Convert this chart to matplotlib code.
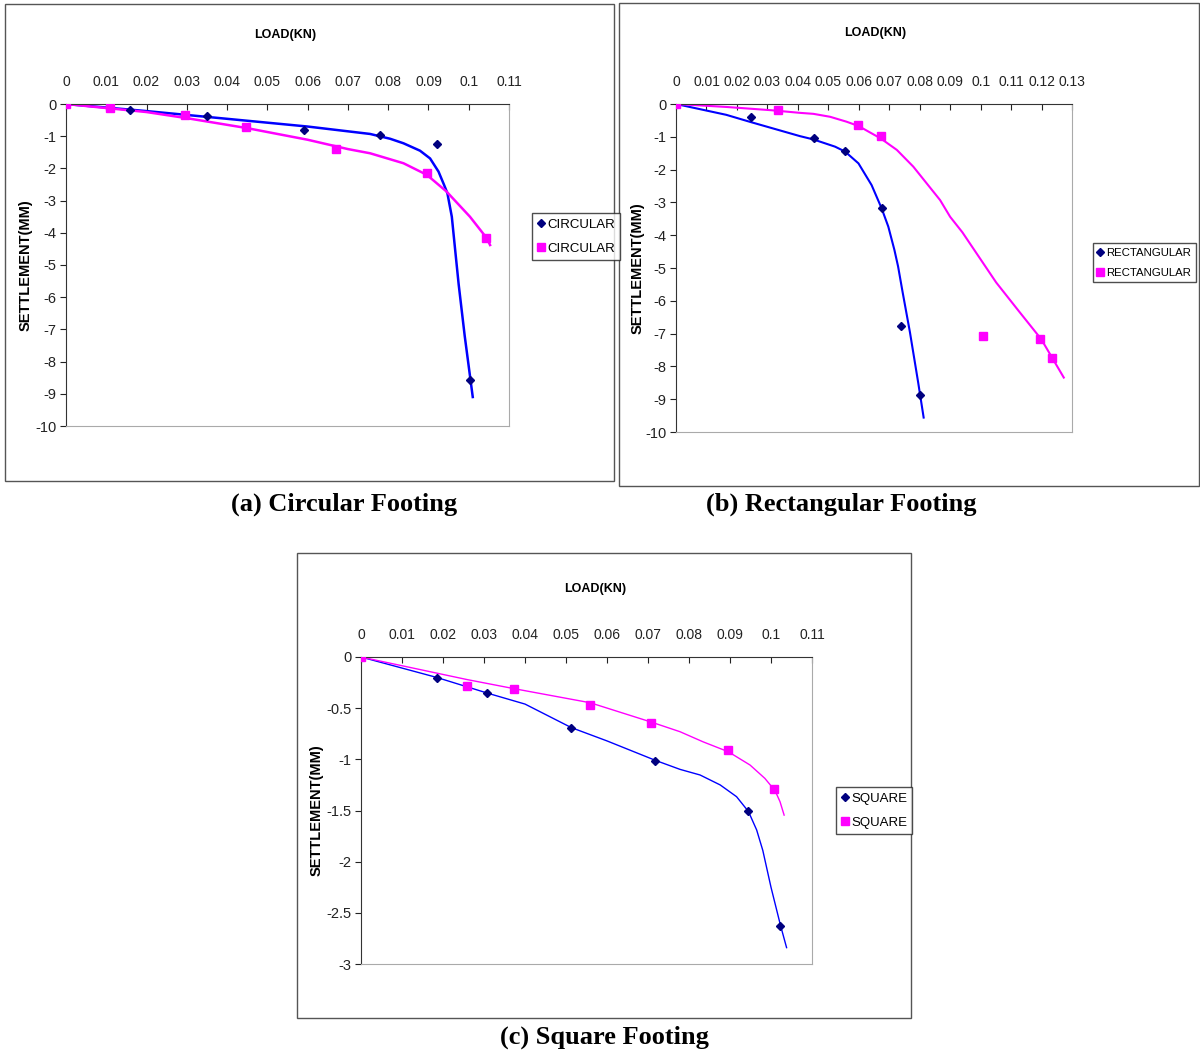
import matplotlib
matplotlib.use("Agg")
import matplotlib.pyplot as plt
from matplotlib.patches import Rectangle
from matplotlib.lines import Line2D

plt.rcParams["font.family"] = ["Liberation Sans", "DejaVu Sans"]

# --- (a) circular footing ---
circ_blue_x = [0, 0.016, 0.035, 0.059, 0.078, 0.092, 0.1003]
circ_blue_y = [0, -0.2, -0.37, -0.8, -0.97, -1.25, -8.58]
circ_pink_x = [0, 0.011, 0.0295, 0.0447, 0.067, 0.0896, 0.1043]
circ_pink_y = [0, -0.12, -0.35, -0.72, -1.4, -2.15, -4.15]
# smooth trend curves
circ_blue_cx = [0, 0.02, 0.04, 0.06, 0.0755, 0.0805, 0.0838, 0.0879, 0.0904, 0.0925, 0.0939,
                0.0947, 0.0958, 0.0968, 0.0975, 0.099, 0.101]
circ_blue_cy = [0, -0.22, -0.46, -0.7, -0.93, -1.08, -1.22, -1.45, -1.69, -2.1, -2.52,
                -2.77, -3.5, -4.74, -5.6, -7.2, -9.1]
circ_pink_cx = [0, 0.02, 0.03, 0.045, 0.06, 0.07, 0.0755, 0.0838, 0.0896, 0.0945, 0.1003, 0.1045, 0.1053]
circ_pink_cy = [0, -0.25, -0.44, -0.75, -1.11, -1.4, -1.53, -1.84, -2.2, -2.72, -3.5, -4.17, -4.38]

# --- (b) rectangular footing ---
rect_blue_x = [0, 0.0245, 0.0452, 0.0555, 0.0676, 0.0737, 0.080]
rect_blue_y = [0, -0.4, -1.04, -1.42, -3.17, -6.76, -8.88]
rect_pink_x = [0, 0.0335, 0.0598, 0.0672, 0.1008, 0.1194, 0.1234]
rect_pink_y = [0, -0.17, -0.63, -0.99, -7.07, -7.17, -7.75]
rect_blue_cx = [0, 0.0165, 0.0245, 0.0407, 0.0451, 0.0522, 0.0555, 0.0599, 0.0642, 0.0675,
                0.0697, 0.0717, 0.0729, 0.0744, 0.0768, 0.0795, 0.0813]
rect_blue_cy = [0, -0.33, -0.55, -0.98, -1.08, -1.3, -1.45, -1.81, -2.47, -3.18,
                -3.74, -4.45, -4.95, -5.74, -6.96, -8.49, -9.56]
rect_pink_cx = [0, 0.0165, 0.0313, 0.0407, 0.0451, 0.0506, 0.056, 0.0599, 0.0672, 0.0725, 0.0779,
                0.0823, 0.0867, 0.09, 0.094, 0.1014, 0.1051, 0.1125, 0.1199, 0.1273]
rect_pink_cy = [0, -0.09, -0.19, -0.27, -0.3, -0.39, -0.54, -0.67, -1.05, -1.4, -1.91,
                -2.42, -2.93, -3.44, -3.91, -4.93, -5.44, -6.31, -7.17, -8.34]

# --- (c) square footing ---
sq_blue_x = [0, 0.0185, 0.0308, 0.0513, 0.0718, 0.0944, 0.1023]
sq_blue_y = [0, -0.205, -0.352, -0.694, -1.017, -1.5, -2.625]
sq_pink_x = [0, 0.0258, 0.0374, 0.0559, 0.0708, 0.0894, 0.1007]
sq_pink_y = [0, -0.287, -0.313, -0.473, -0.642, -0.91, -1.294]
sq_blue_cx = [0, 0.0185, 0.031, 0.04, 0.0513, 0.06, 0.0718, 0.0778, 0.0827, 0.0876, 0.0916,
              0.0945, 0.0965, 0.098, 0.1, 0.1023, 0.1038]
sq_blue_cy = [0, -0.2, -0.355, -0.46, -0.69, -0.82, -1.01, -1.098, -1.153, -1.25, -1.365,
              -1.51, -1.69, -1.89, -2.25, -2.62, -2.84]
sq_pink_cx = [0, 0.0258, 0.0374, 0.0559, 0.0708, 0.0778, 0.0835, 0.0896, 0.0949, 0.0985,
              0.101, 0.1022, 0.1032]
sq_pink_cy = [0, -0.22, -0.31, -0.447, -0.636, -0.73, -0.83, -0.926, -1.056, -1.186,
              -1.307, -1.414, -1.545]

W, H = 1200, 1052
fig = plt.figure(figsize=(W / 100, H / 100), dpi=100)

NAVY = "#00007f"
BLUE = "#0000ff"
PINK = "#ff00ff"


def box(px, py, pw, ph):
    return [px / W, 1 - (py + ph) / H, pw / W, ph / H]


def panel(rect, frame, xs, ymin, xmax, ystep, label, legend_box, legend_size, title_xy, ylab_x,
          lw, caption, caption_xy):
    # outer chart border
    fx0, fy0, fx1, fy1 = frame
    fig.patches.append(Rectangle((fx0 / W, 1 - fy1 / H), (fx1 - fx0) / W, (fy1 - fy0) / H,
                                 transform=fig.transFigure, fill=False, edgecolor="#555555", lw=1))
    ax = fig.add_axes(box(*rect))
    bx, by, bcx, bcy, px_, py_, pcx, pcy = xs
    ax.plot(bcx, bcy, color=BLUE, lw=lw, zorder=2, solid_joinstyle="round")
    ax.plot(pcx, pcy, color=PINK, lw=lw, zorder=2, solid_joinstyle="round")
    ax.plot(bx, by, "D", color=NAVY, ms=4.5, ls="none", zorder=3)
    ax.plot(px_, py_, "s", color=PINK, ms=5.5, ls="none", zorder=3)
    ax.set_xlim(0, xmax)
    ax.set_ylim(ymin, 0)
    n = int(round(xmax / 0.01))
    xt = [i * 0.01 for i in range(n + 1)]
    ax.set_xticks(xt)
    ax.set_xticklabels(["0"] + ["%g" % round(v, 2) for v in xt[1:]])
    m = int(round(-ymin / ystep))
    yt = [-i * ystep for i in range(m + 1)]
    ax.set_yticks(yt)
    ax.set_yticklabels(["%g" % v for v in yt])
    ax.xaxis.tick_top()
    ax.tick_params(axis="x", direction="in", length=4, pad=11, labelsize=10, colors="#222222")
    ax.tick_params(axis="y", direction="out", length=4, pad=3, labelsize=10.5, colors="#222222")
    for s in ["left", "top"]:
        ax.spines[s].set_color("#333333")
    for s in ["right", "bottom"]:
        ax.spines[s].set_color("#aaaaaa")
    fig.text(title_xy[0] / W, 1 - title_xy[1] / H, "LOAD(KN)", ha="center", va="center",
             fontsize=9, fontweight="bold")
    fig.text(ylab_x / W, 1 - (rect[1] + rect[3] / 2) / H, "SETTLEMENT(MM)", rotation=90,
             ha="center", va="center", fontsize=10.5, fontweight="bold")
    handles = [Line2D([], [], marker="D", color=NAVY, ls="none", ms=4),
               Line2D([], [], marker="s", color=PINK, ls="none", ms=5.5)]
    lx, ly = legend_box
    fig.legend(handles, [label, label], loc="upper left", bbox_to_anchor=(lx / W, 1 - ly / H),
               frameon=True, fancybox=False, edgecolor="#222222", fontsize=legend_size,
               handlelength=0.5, handletextpad=0.25, borderpad=0.4, labelspacing=0.9,
               borderaxespad=0)
    fig.text(caption_xy[0] / W, 1 - caption_xy[1] / H, caption, ha="center", va="center",
             fontsize=19, fontweight="bold", family=["Liberation Serif", "DejaVu Serif"])
    return ax


panel((66, 104, 443, 322), (5, 4, 614, 481),
      (circ_blue_x, circ_blue_y, circ_blue_cx, circ_blue_cy,
       circ_pink_x, circ_pink_y, circ_pink_cx, circ_pink_cy),
      -10, 0.11, 1, "CIRCULAR", (532, 213), 9.5, (285, 35), 26, 1.8,
      "(a) Circular Footing", (344, 504))

panel((676, 104, 396, 328), (619, 3, 1199, 486),
      (rect_blue_x, rect_blue_y, rect_blue_cx, rect_blue_cy,
       rect_pink_x, rect_pink_y, rect_pink_cx, rect_pink_cy),
      -10, 0.13, 1, "RECTANGULAR", (1093, 243), 8.2, (875, 33), 638, 1.5,
      "(b) Rectangular Footing", (841, 504))

panel((361, 657, 451, 307), (297, 553, 911, 1018),
      (sq_blue_x, sq_blue_y, sq_blue_cx, sq_blue_cy,
       sq_pink_x, sq_pink_y, sq_pink_cx, sq_pink_cy),
      -3, 0.11, 0.5, "SQUARE", (836, 787), 9.5, (595, 589), 317, 1.0,
      "(c) Square Footing", (604, 1037))

fig.savefig("out.png", dpi=100, facecolor="white")
